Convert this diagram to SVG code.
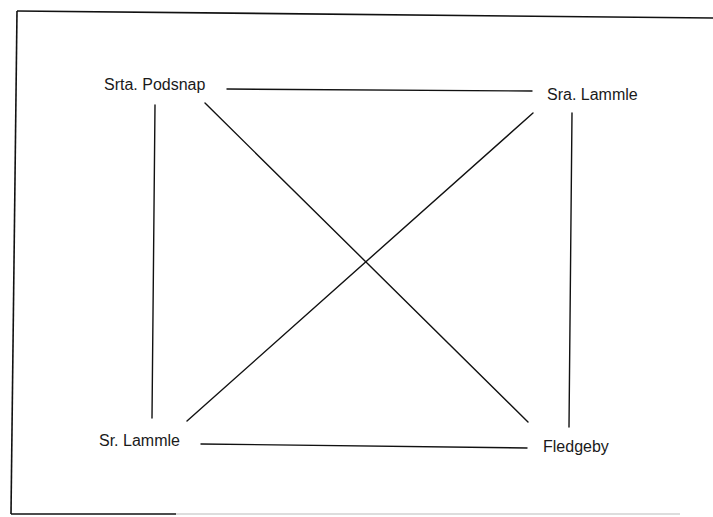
<svg xmlns="http://www.w3.org/2000/svg" width="713" height="517" viewBox="0 0 713 517">
<style>
.lbl{font-family:"Liberation Sans",Arial,sans-serif;font-size:16px;fill:#1a1a1a}
.edge{stroke:#111;stroke-width:1.4;fill:none;stroke-linecap:round}
.frame{stroke:#111;stroke-width:1.6;fill:none}
.faint{stroke:#bbb;stroke-width:1.2;fill:none}
</style>
<rect width="713" height="517" fill="#fff"/>
<g id="frame">
<line class="frame" x1="17" y1="11" x2="713" y2="18"/>
<line class="frame" x1="17" y1="11" x2="11" y2="514"/>
<line class="frame" x1="11" y1="514" x2="176" y2="514"/>
<line class="faint" x1="176" y1="514" x2="680" y2="514"/>
</g>
<g id="connectors">
<line class="edge" x1="227" y1="89" x2="532" y2="91"/>
<line class="edge" x1="155" y1="105" x2="152" y2="418"/>
<line class="edge" x1="205" y1="103" x2="528" y2="422"/>
<line class="edge" x1="187" y1="421" x2="533" y2="113"/>
<line class="edge" x1="572" y1="113" x2="569" y2="427"/>
<line class="edge" x1="201" y1="444" x2="527" y2="448"/>
</g>
<g id="srta-podsnap"><text class="lbl" x="104" y="90">Srta. Podsnap</text></g>
<g id="sra-lammle"><text class="lbl" x="547" y="100">Sra. Lammle</text></g>
<g id="sr-lammle"><text class="lbl" x="99" y="446">Sr. Lammle</text></g>
<g id="fledgeby"><text class="lbl" x="543" y="452">Fledgeby</text></g>
</svg>
